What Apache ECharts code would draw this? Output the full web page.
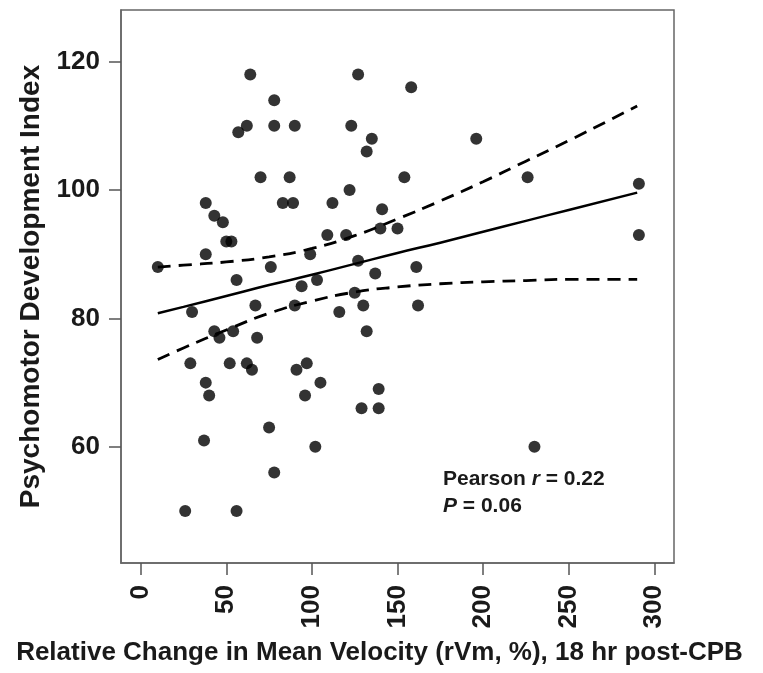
<!DOCTYPE html>
<html>
<head>
<meta charset="utf-8">
<script src="https://cdn.jsdelivr.net/npm/echarts@6/dist/echarts.min.js"></script>
<style>
  html, body { margin: 0; padding: 0; background: #fff; }
  #main { width: 763px; height: 673px; }
</style>
</head>
<body>
<div id="main"></div>
<script>
// scatter points: relative change in mean velocity (%) vs PDI
var velX = [64, 127, 158, 78, 62, 57, 78, 90, 123, 135, 132, 196, 70, 87, 154, 226, 122, 291,
  38, 83, 89, 112, 141, 43, 48, 50, 53, 140, 150, 109, 120, 291, 38, 99, 127, 10, 76, 161,
  56, 137, 94, 103, 125, 30, 67, 90, 116, 130, 162, 43, 46, 54, 68, 132, 29, 52, 62, 65,
  91, 97, 38, 40, 96, 105, 139, 129, 139, 75, 37, 102, 230, 78, 26, 56];
var pdiY = [118, 118, 116, 114, 110, 109, 110, 110, 110, 108, 106, 108, 102, 102, 102, 102, 100, 101,
  98, 98, 98, 98, 97, 96, 95, 92, 92, 94, 94, 93, 93, 93, 90, 90, 89, 88, 88, 88,
  86, 87, 85, 86, 84, 81, 82, 82, 81, 82, 82, 78, 77, 78, 77, 78, 73, 73, 73, 72,
  72, 73, 70, 68, 68, 70, 69, 66, 66, 63, 61, 60, 60, 56, 50, 50];

// fitted line and 95% band
var fitX   = [10, 25, 50, 75, 100, 125, 150, 175, 200, 225, 250, 290];
var fitY   = [80.8, 81.8, 83.5, 85.2, 86.8, 88.5, 90.2, 91.8, 93.5, 95.2, 96.9, 99.6];
var upperY = [88.0, 88.3, 88.8, 89.6, 90.9, 92.9, 95.5, 98.3, 101.3, 104.5, 107.7, 113.1];
var lowerY = [73.6, 75.4, 78.2, 80.8, 82.7, 84.1, 84.9, 85.4, 85.7, 85.9, 86.1, 86.1];

var xTicks = [0, 50, 100, 150, 200, 250, 300];
var yTicks = [60, 80, 100, 120];

function pairs(xs, ys) {
    var out = [];
    for (var i = 0; i < xs.length; i++) out.push([xs[i], ys[i]]);
    return out;
}

var font = 'Liberation Sans, Arial, sans-serif';
var axisColor = '#666';
var chart = echarts.init(document.getElementById('main'));

var option = {
    animation: false,
    backgroundColor: '#fff',
    grid: {
        left: 121, right: 89, top: 10, bottom: 110,
        show: true, borderColor: axisColor, borderWidth: 1.5, backgroundColor: 'transparent'
    },
    title: {
        left: 438, top: 461,
        text: 'Pearson {i|r} = 0.22\n{i|P} = 0.06',
        textStyle: {
            fontFamily: font, fontSize: 21, fontWeight: 'bold', color: '#1a1a1a', lineHeight: 27,
            rich: { i: { fontFamily: font, fontSize: 21, fontWeight: 'bold', fontStyle: 'italic', color: '#1a1a1a' } }
        }
    },
    xAxis: {
        type: 'value', min: -11.5, max: 311.5,
        name: 'Relative Change in Mean Velocity (rVm, %), 18 hr post-CPB',
        nameLocation: 'middle', nameGap: 77,
        nameTextStyle: { fontFamily: font, fontSize: 26, fontWeight: 'bold', color: '#1a1a1a',
            verticalAlign: 'top', padding: [0, 36, 0, 0] },
        axisLine: { show: true, onZero: false, lineStyle: { color: axisColor, width: 1.5 } },
        axisTick: { show: true, inside: false, length: 12, customValues: xTicks, lineStyle: { color: '#555', width: 1.5 } },
        axisLabel: { customValues: xTicks, rotate: 90, margin: 22, fontFamily: font, fontSize: 26,
            fontWeight: 'bold', color: '#1a1a1a' },
        splitLine: { show: false }
    },
    yAxis: {
        type: 'value', min: 41.9, max: 128.05,
        name: 'Psychomotor Development Index',
        nameLocation: 'middle', nameGap: 76, nameRotate: 90,
        nameTextStyle: { fontFamily: font, fontSize: 28, fontWeight: 'bold', color: '#1a1a1a' },
        axisLine: { show: true, onZero: false, lineStyle: { color: axisColor, width: 1.5 } },
        axisTick: { show: true, inside: false, length: 12, customValues: yTicks, lineStyle: { color: '#555', width: 1.5 } },
        axisLabel: { customValues: yTicks, margin: 21, fontFamily: font, fontSize: 26,
            fontWeight: 'bold', color: '#1a1a1a' },
        splitLine: { show: false }
    },
    series: [
        {
            type: 'scatter', data: pairs(velX, pdiY), symbolSize: 12,
            itemStyle: { color: '#000' }, z: 3
        },
        {
            type: 'line', data: pairs(fitX, fitY), showSymbol: false, smooth: true,
            lineStyle: { color: '#000', width: 2.5 }
        },
        {
            type: 'line', data: pairs(fitX, upperY), showSymbol: false, smooth: true,
            lineStyle: { color: '#000', width: 2.8, type: [13, 8] }
        },
        {
            type: 'line', data: pairs(fitX, lowerY), showSymbol: false, smooth: true,
            lineStyle: { color: '#000', width: 2.8, type: [13, 8] }
        }
    ]
};
chart.setOption(option);
</script>
</body>
</html>
